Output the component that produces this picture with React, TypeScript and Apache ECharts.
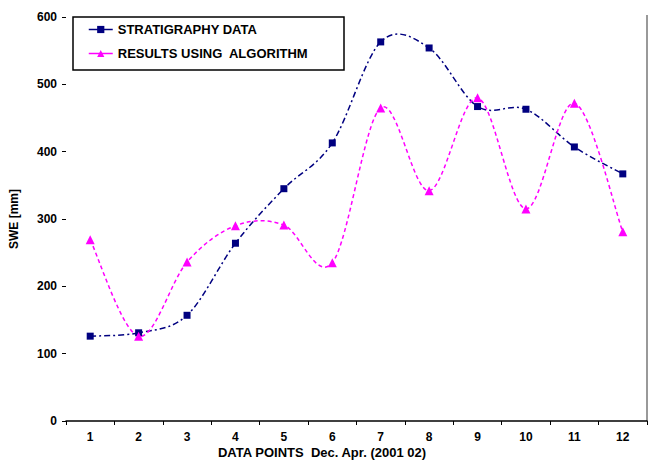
import React, { useEffect, useRef } from "react";
import * as echarts from "echarts";

const categories = ["1", "2", "3", "4", "5", "6", "7", "8", "9", "10", "11", "12"];
const stratigraphy = [126, 131, 157, 264, 345, 413, 563, 554, 467, 463, 407, 367];
const algorithm = [269, 126, 236, 290, 291, 235, 465, 342, 480, 315, 472, 281];
const seriesNames = ["STRATIGRAPHY DATA", "RESULTS USING  ALGORITHM"];
const xTitle = "DATA POINTS  Dec. Apr. (2001 02)";
const yTitle = "SWE [mm]";

const FONT = "'Liberation Sans', Arial, sans-serif";
const BLUE = "#000080";
const PINK = "#ff00ff";
const BLUE_DASH = [6, 3, 2, 3];
const PINK_DASH = [4, 3];

function smoothCurve(values: number[], color: string, dash: number[]) {
  return {
    type: "custom",
    silent: true,
    z: 1,
    data: values.map((v, i) => [i, v]),
    renderItem: (params: any, api: any) => {
      if (params.dataIndex !== 0) return null;
      const pts = values.map((v, i) => api.coord([i, v]));
      let d = `M${pts[0][0]},${pts[0][1]}`;
      for (let i = 0; i < pts.length - 1; i++) {
        const p0 = pts[i - 1] || pts[i];
        const p1 = pts[i];
        const p2 = pts[i + 1];
        const p3 = pts[i + 2] || pts[i + 1];
        const c1x = p1[0] + (p2[0] - p0[0]) / 6;
        const c1y = p1[1] + (p2[1] - p0[1]) / 6;
        const c2x = p2[0] - (p3[0] - p1[0]) / 6;
        const c2y = p2[1] - (p3[1] - p1[1]) / 6;
        d += ` C${c1x},${c1y} ${c2x},${c2y} ${p2[0]},${p2[1]}`;
      }
      return {
        type: "path",
        shape: { pathData: d },
        style: { fill: "none", stroke: color, lineWidth: 1.5, lineDash: dash },
      };
    },
  };
}

export default function App() {
  const ref = useRef<HTMLDivElement>(null);
  useEffect(() => {
    if (!ref.current) return;
    const chart = echarts.init(ref.current, null, { renderer: "svg" });
    chart.setOption({
      animation: false,
      backgroundColor: "#ffffff",
      textStyle: { fontFamily: FONT },
      grid: { left: 66, right: 7, top: 17, bottom: 45, containLabel: false },
      legend: {
        orient: "vertical",
        left: 73,
        top: 17,
        padding: [6, 8, 8, 15],
        itemWidth: 24,
        itemHeight: 9,
        itemGap: 11,
        textStyle: { fontFamily: FONT, fontSize: 13, fontWeight: "bold", color: "#000" },
        data: [
          { name: seriesNames[0], lineStyle: { color: BLUE, width: 1.5, type: "solid", opacity: 1 } },
          { name: seriesNames[1], lineStyle: { color: PINK, width: 1.5, type: "solid", opacity: 1 } },
        ],
      },
      xAxis: {
        type: "category",
        data: categories,
        boundaryGap: true,
        axisLine: { show: true, lineStyle: { color: "#000", width: 1.5 } },
        axisTick: { show: true, length: 4, inside: false, lineStyle: { color: "#000" } },
        axisLabel: { color: "#000", fontSize: 12, fontWeight: "bold", margin: 10, fontFamily: FONT },
        splitLine: { show: false },
      },
      yAxis: {
        type: "value",
        min: 0,
        max: 600,
        interval: 100,
        name: yTitle,
        nameLocation: "middle",
        nameGap: 46,
        nameRotate: 90,
        nameTextStyle: { color: "#000", fontSize: 12, fontWeight: "bold", fontFamily: FONT },
        axisLine: { show: false },
        axisTick: { show: true, length: 4, lineStyle: { color: "#000" } },
        axisLabel: { color: "#000", fontSize: 12, fontWeight: "bold", margin: 9, fontFamily: FONT },
        splitLine: { show: false },
      },
      graphic: [
        {
          type: "rect",
          shape: { x: 73, y: 17, width: 271, height: 53 },
          style: { fill: "none", stroke: "#000", lineWidth: 1.5 },
          z: 10,
        },
        {
          type: "line",
          shape: { x1: 647, y1: 15, x2: 647, y2: 421 },
          style: { stroke: "#999", lineWidth: 2 },
        },
        {
          type: "text",
          x: 322,
          y: 452,
          style: {
            text: xTitle,
            fill: "#000",
            font: "bold 13px " + FONT,
            align: "center",
            verticalAlign: "middle",
          },
        },
      ],
      series: [
        smoothCurve(stratigraphy, BLUE, BLUE_DASH),
        smoothCurve(algorithm, PINK, PINK_DASH),
        {
          name: seriesNames[0],
          type: "line",
          data: stratigraphy,
          z: 3,
          symbol: "rect",
          symbolSize: 7,
          itemStyle: { color: BLUE },
          lineStyle: { color: BLUE, width: 1.5, opacity: 0 },
        },
        {
          name: seriesNames[1],
          type: "line",
          data: algorithm,
          z: 3,
          symbol: "triangle",
          symbolSize: 9,
          itemStyle: { color: PINK },
          lineStyle: { color: PINK, width: 1.5, opacity: 0 },
        },
      ],
    });
    return () => chart.dispose();
  }, []);
  return (
    <div
      ref={ref}
      style={{ position: "fixed", left: 0, top: 0, width: 654, height: 466, background: "#fff" }}
    />
  );
}
